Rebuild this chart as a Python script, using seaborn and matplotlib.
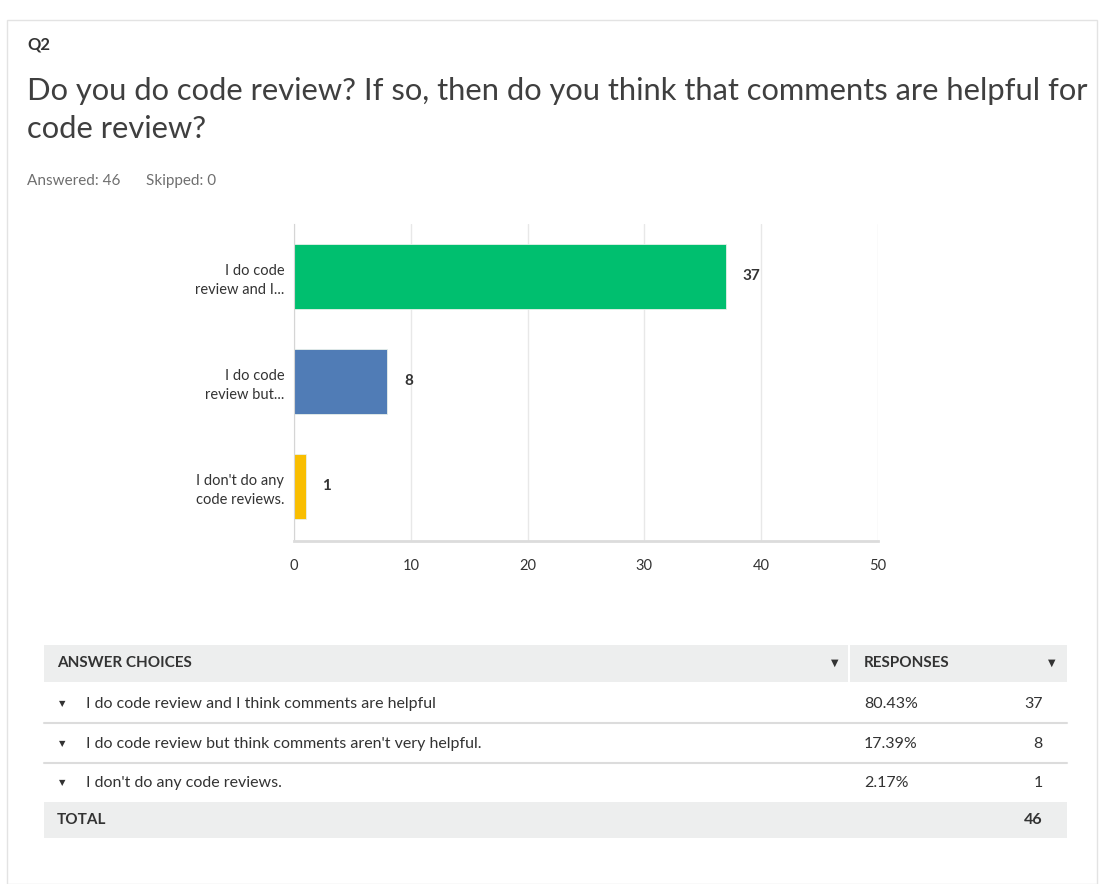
import matplotlib
matplotlib.use("Agg")
import matplotlib.pyplot as plt
from matplotlib.patches import Rectangle
import seaborn as sns
import pandas as pd

# === data ===
short_labels = ["I do code\nreview and I...", "I do code\nreview but...", "I don't do any\ncode reviews."]
full_labels = ["I do code review and I think comments are helpful",
               "I do code review but think comments aren't very helpful.",
               "I don't do any code reviews."]
responses = [37, 8, 1]
percents = ["80.43%", "17.39%", "2.17%"]
total = 46
bar_colors = ["#00bf6f", "#507cb6", "#f9be00"]
x_ticks = [0, 10, 20, 30, 40, 50]

W, H = 1101, 884
FONT = ["Lato", "DejaVu Sans"]

sns.set_style("white")
plt.rcParams["font.family"] = FONT


def fx(x):
    return x / W


def fy(y):
    return 1 - y / H


fig = plt.figure(figsize=(W / 100, H / 100), dpi=100)
fig.patch.set_facecolor("white")

# panel border
fig.patches.append(Rectangle((fx(7), fy(884)), fx(1090), 864 / H, transform=fig.transFigure,
                             fill=False, edgecolor="#e3e3e3", lw=1))

# header texts
fig.text(fx(27), fy(45), "Q2", fontsize=12, fontweight="bold", color="#333333", va="center")
fig.text(fx(27), fy(91), "Do you do code review? If so, then do you think that comments are helpful for",
         fontsize=22.2, color="#3f3f3f", va="center")
fig.text(fx(27), fy(129), "code review?", fontsize=22.2, color="#3f3f3f", va="center")
fig.text(fx(27), fy(181), "Answered: 46", fontsize=11, color="#6f6f6f", va="center")
fig.text(fx(146), fy(181), "Skipped: 0", fontsize=11, color="#6f6f6f", va="center")

# === bar chart ===
ax = fig.add_axes([fx(294), fy(541), fx(878) - fx(294), (541 - 224) / H])
df = pd.DataFrame({"label": short_labels, "count": responses})
sns.barplot(data=df, y="label", x="count", hue="label", palette=bar_colors, saturation=1,
            orient="h", width=0.62, legend=False, ax=ax, edgecolor="#e8f0ea", linewidth=0.6)
ax.set_xlim(0, 50)
ax.set_ylim(2.52, -0.5)
ax.set_xticks(x_ticks)
ax.set_xlabel("")
ax.set_ylabel("")
ax.grid(axis="x", color="#e8e8e8", lw=1)
ax.set_axisbelow(True)
for side in ["top", "right"]:
    ax.spines[side].set_visible(False)
ax.spines["left"].set_color("#d5d5d5")
ax.spines["bottom"].set_color("#dcdcdc")
ax.spines["bottom"].set_linewidth(2)
ax.tick_params(axis="both", length=0, colors="#333333", labelsize=10.5)
ax.tick_params(axis="x", pad=13)
ax.tick_params(axis="y", pad=7)
for lbl in ax.get_yticklabels():
    lbl.set_horizontalalignment("right")
    lbl.set_multialignment("right")
    lbl.set_linespacing(1.5)
for cont in ax.containers:
    ax.bar_label(cont, padding=12, fontsize=11, fontweight="bold", color="#333333")

# === table ===
tl, tr, split = 44, 1067, 849
fig.patches.append(Rectangle((fx(tl), fy(682)), fx(tr - tl), 37 / H, transform=fig.transFigure,
                             facecolor="#edeeee", edgecolor="none"))
fig.patches.append(Rectangle((fx(tl), fy(838)), fx(tr - tl), 36 / H, transform=fig.transFigure,
                             facecolor="#edeeee", edgecolor="none"))
fig.lines.append(plt.Line2D([fx(split), fx(split)], [fy(645), fy(682)], transform=fig.transFigure,
                            color="white", lw=1.5))
fig.text(fx(57), fy(663), "ANSWER CHOICES", fontsize=11, fontweight="bold", color="#333333", va="center")
fig.text(fx(864), fy(663), "RESPONSES", fontsize=11, fontweight="bold", color="#333333", va="center")
fig.text(fx(835), fy(663), "\u25bc", fontsize=7, color="#333333", va="center", ha="center",
         family="DejaVu Sans")
fig.text(fx(1052), fy(663), "\u25bc", fontsize=7, color="#333333", va="center", ha="center",
         family="DejaVu Sans")

row_y = [704, 744, 783]
for i, (txt, pct, n) in enumerate(zip(full_labels, percents, responses)):
    y = row_y[i]
    fig.text(fx(62), fy(y), "\u25bc", fontsize=6, color="#333333", va="center", ha="center",
             family="DejaVu Sans")
    fig.text(fx(86), fy(y), txt, fontsize=11.5, color="#333333", va="center")
    fig.text(fx(864), fy(y), pct, fontsize=11.5, color="#333333", va="center")
    fig.text(fx(1043), fy(y), str(n), fontsize=11.5, color="#333333", va="center", ha="right")
    if i < len(full_labels) - 1:
        fig.lines.append(plt.Line2D([fx(tl), fx(tr)], [fy(y + 19), fy(y + 19)], transform=fig.transFigure,
                                    color="#dcdcdc", lw=1.5))
fig.text(fx(57), fy(820), "TOTAL", fontsize=11, fontweight="bold", color="#333333", va="center")
fig.text(fx(1043), fy(820), str(total), fontsize=11.5, fontweight="bold", color="#333333", va="center", ha="right")

fig.savefig("out.png", dpi=100)
